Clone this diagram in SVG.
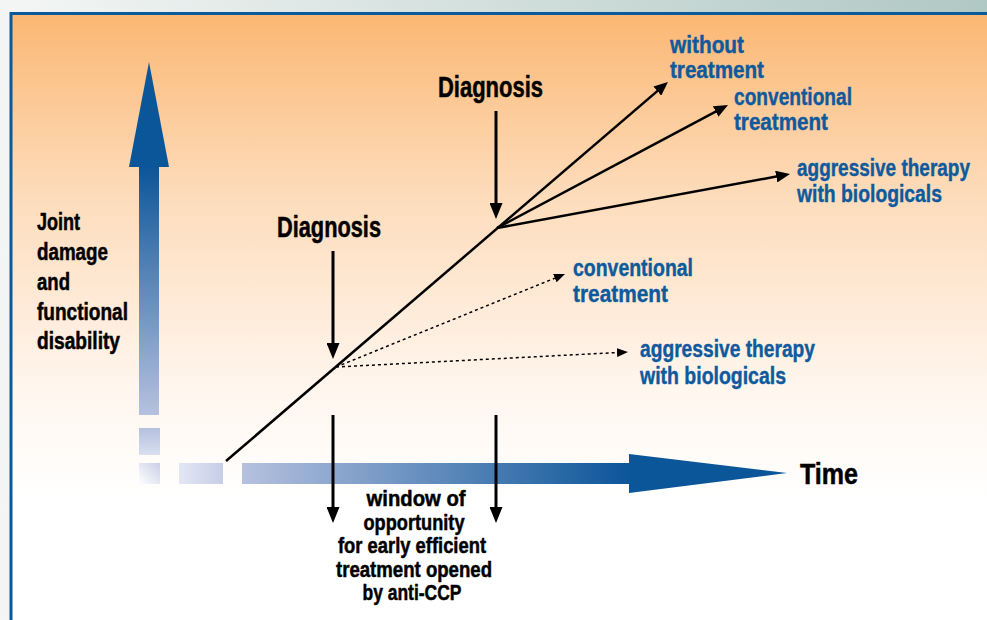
<svg xmlns="http://www.w3.org/2000/svg" width="987" height="620" viewBox="0 0 987 620">
<defs>
  <linearGradient id="bgOut" x1="0" y1="0" x2="1" y2="0">
    <stop offset="0" stop-color="#f4f6f5"/>
    <stop offset="1" stop-color="#b0c8c4"/>
  </linearGradient>
  <linearGradient id="bgIn" x1="0" y1="13" x2="0" y2="620" gradientUnits="userSpaceOnUse">
    <stop offset="0" stop-color="#fbb773"/>
    <stop offset="0.3" stop-color="#fddcbb"/>
    <stop offset="0.62" stop-color="#fff6ee"/>
    <stop offset="0.8" stop-color="#ffffff"/>
  </linearGradient>
  <linearGradient id="gV" x1="0" y1="166" x2="0" y2="415" gradientUnits="userSpaceOnUse">
    <stop offset="0" stop-color="#0b5599"/>
    <stop offset="1" stop-color="#b6c1df"/>
  </linearGradient>
  <linearGradient id="gH" x1="242" y1="0" x2="631" y2="0" gradientUnits="userSpaceOnUse">
    <stop offset="0" stop-color="#b6c1df"/>
    <stop offset="1" stop-color="#0b5599"/>
  </linearGradient>
  <linearGradient id="gSq1" x1="0" y1="0" x2="0" y2="1">
    <stop offset="0" stop-color="#b4c0df"/>
    <stop offset="1" stop-color="#d9dfef"/>
  </linearGradient>
  <linearGradient id="gSq2" x1="0" y1="1" x2="1" y2="0">
    <stop offset="0" stop-color="#ffffff"/>
    <stop offset="1" stop-color="#c8d0e8"/>
  </linearGradient>
  <linearGradient id="gSq3" x1="0" y1="0" x2="1" y2="0">
    <stop offset="0" stop-color="#e3e7f4"/>
    <stop offset="1" stop-color="#c6cee7"/>
  </linearGradient>
  <marker id="ah" markerUnits="userSpaceOnUse" viewBox="0 0 14 12" markerWidth="14" markerHeight="12" refX="8" refY="6" orient="auto">
    <path d="M0,0 L14,6 L0,12 z" fill="#000"/>
  </marker>
  <marker id="ahs" markerUnits="userSpaceOnUse" viewBox="0 0 11 9" markerWidth="11" markerHeight="9" refX="7" refY="4.5" orient="auto">
    <path d="M0,0 L11,4.5 L0,9 z" fill="#000"/>
  </marker>
  <marker id="ahv" markerUnits="userSpaceOnUse" viewBox="0 0 16 13" markerWidth="16" markerHeight="13" refX="9" refY="6.5" orient="auto">
    <path d="M0,0 L16,6.5 L0,13 z" fill="#000"/>
  </marker>
</defs>
<style>
  .lbl { font-family: "Liberation Sans", Arial, sans-serif; font-weight: bold; fill: #000; stroke: #000; stroke-width: 0.5; }
  .blue { font-family: "Liberation Sans", Arial, sans-serif; font-weight: bold; fill: #0f5a9c; stroke: #0f5a9c; stroke-width: 0.4; font-size: 23px; }
  .ln { stroke: #000; stroke-width: 2.5; fill: none; }
  .dot { stroke: #000; stroke-width: 1.5; stroke-dasharray: 3 3; fill: none; }
  .vln { stroke: #000; stroke-width: 3; fill: none; }
</style>

<rect x="0" y="0" width="987" height="620" fill="url(#bgOut)"/>
<rect x="11" y="13.5" width="990" height="620" fill="url(#bgIn)" stroke="#0a5a9c" stroke-width="3"/>

<g id="y-axis">
  <rect x="139" y="166" width="20" height="249" fill="url(#gV)"/>
  <polygon points="129,167 149,62 169,167" fill="#0b5599"/>
  <rect x="139" y="428" width="21" height="27" fill="url(#gSq1)"/>
  <rect x="139" y="463" width="21" height="21" fill="url(#gSq2)"/>
</g>
<g id="x-axis">
  <rect x="179" y="463" width="44" height="21" fill="url(#gSq3)"/>
  <rect x="242" y="463" width="389" height="21" fill="url(#gH)"/>
  <polygon points="629,454 787,473 629,493" fill="#0b5599"/>
</g>

<g id="connectors">
  <line class="ln" x1="226" y1="461" x2="663.4" y2="85.9" marker-end="url(#ah)"/>
  <line class="ln" x1="497" y1="228" x2="722.7" y2="107.8" marker-end="url(#ah)"/>
  <line class="ln" x1="497" y1="228" x2="784.1" y2="175.1" marker-end="url(#ah)"/>
  <line class="dot" x1="336" y1="367" x2="561.3" y2="275.5" marker-end="url(#ahs)"/>
  <line class="dot" x1="336" y1="367" x2="624" y2="352.2" marker-end="url(#ahs)"/>
  <line class="vln" x1="333" y1="251" x2="333" y2="352" marker-end="url(#ahv)"/>
  <line class="vln" x1="496" y1="111" x2="496" y2="212" marker-end="url(#ahv)"/>
  <line class="vln" x1="333" y1="415" x2="333" y2="516" marker-end="url(#ahv)"/>
  <line class="vln" x1="496" y1="415" x2="496" y2="516" marker-end="url(#ahv)"/>
</g>

<g id="y-label">
  <text class="lbl" font-size="23" x="37" y="230" textLength="43" lengthAdjust="spacingAndGlyphs">Joint</text>
  <text class="lbl" font-size="23" x="37" y="260" textLength="71" lengthAdjust="spacingAndGlyphs">damage</text>
  <text class="lbl" font-size="23" x="37" y="290" textLength="33" lengthAdjust="spacingAndGlyphs">and</text>
  <text class="lbl" font-size="23" x="37" y="320" textLength="91" lengthAdjust="spacingAndGlyphs">functional</text>
  <text class="lbl" font-size="23" x="37" y="349" textLength="83" lengthAdjust="spacingAndGlyphs">disability</text>
</g>

<g id="time-label">
  <text class="lbl" font-size="30" x="800" y="484" textLength="58" lengthAdjust="spacingAndGlyphs">Time</text>
</g>

<g id="diagnosis-late">
  <text class="lbl" font-size="29" x="438" y="97" textLength="105" lengthAdjust="spacingAndGlyphs">Diagnosis</text>
</g>
<g id="diagnosis-early">
  <text class="lbl" font-size="29" x="277" y="237" textLength="104" lengthAdjust="spacingAndGlyphs">Diagnosis</text>
</g>

<g id="window">
  <text class="lbl" font-size="22" text-anchor="middle" x="416" y="506" textLength="99" lengthAdjust="spacingAndGlyphs">window of</text>
  <text class="lbl" font-size="22" text-anchor="middle" x="414" y="530" textLength="101" lengthAdjust="spacingAndGlyphs">opportunity</text>
  <text class="lbl" font-size="22" text-anchor="middle" x="412" y="553" textLength="148" lengthAdjust="spacingAndGlyphs">for early efficient</text>
  <text class="lbl" font-size="22" text-anchor="middle" x="414" y="577" textLength="156" lengthAdjust="spacingAndGlyphs">treatment opened</text>
  <text class="lbl" font-size="22" text-anchor="middle" x="412" y="600" textLength="99" lengthAdjust="spacingAndGlyphs">by anti-CCP</text>
</g>

<g id="late-without">
  <text class="blue" x="670" y="53" textLength="74" lengthAdjust="spacingAndGlyphs">without</text>
  <text class="blue" x="670" y="78" textLength="94" lengthAdjust="spacingAndGlyphs">treatment</text>
</g>
<g id="late-conventional">
  <text class="blue" x="734" y="105" textLength="118" lengthAdjust="spacingAndGlyphs">conventional</text>
  <text class="blue" x="734" y="130" textLength="94" lengthAdjust="spacingAndGlyphs">treatment</text>
</g>
<g id="late-aggressive">
  <text class="blue" x="797" y="176" textLength="173" lengthAdjust="spacingAndGlyphs">aggressive therapy</text>
  <text class="blue" x="797" y="202" textLength="145" lengthAdjust="spacingAndGlyphs">with biologicals</text>
</g>
<g id="early-conventional">
  <text class="blue" x="573" y="276" textLength="120" lengthAdjust="spacingAndGlyphs">conventional</text>
  <text class="blue" x="573" y="302" textLength="95" lengthAdjust="spacingAndGlyphs">treatment</text>
</g>
<g id="early-aggressive">
  <text class="blue" x="640" y="357" textLength="175" lengthAdjust="spacingAndGlyphs">aggressive therapy</text>
  <text class="blue" x="640" y="384" textLength="146" lengthAdjust="spacingAndGlyphs">with biologicals</text>
</g>
</svg>
